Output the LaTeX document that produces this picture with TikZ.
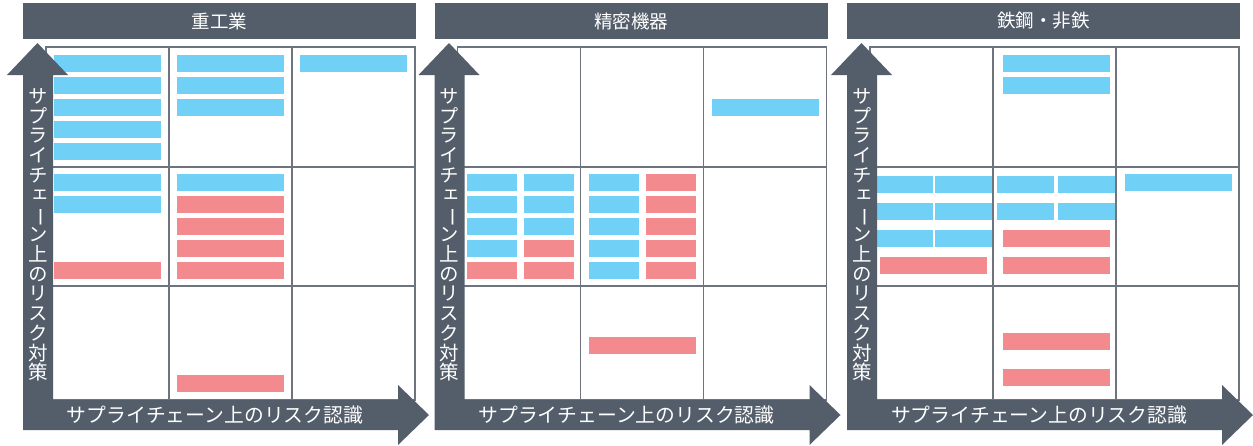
\documentclass[tikz,border=0pt]{standalone}
\usepackage{fontspec}
\usepackage{graphicx}
\newfontfamily\jp{Noto Sans CJK JP}
\newfontfamily\jpv[RawFeature=+vert]{Noto Sans CJK JP}
\definecolor{slate}{HTML}{545E6B}
\definecolor{gridc}{HTML}{6D747E}
\definecolor{blu}{HTML}{70D0F6}
\definecolor{pnk}{HTML}{F38B8E}
\tikzset{
  gridline/.style={draw=gridc, line width=1.6pt},
  titletext/.style={text=white, inner sep=0pt, font=\jp\fontsize{18.5}{20}\selectfont},
  htext/.style={text=white, inner sep=0pt, font=\jp\fontsize{19.8}{20}\selectfont},
  vtext/.style={text=white, inner sep=0pt, align=center, font=\jpv\fontsize{19.5}{19.75}\selectfont},
  bluebar/.style={fill=blu},
  pinkbar/.style={fill=pnk}
}
\newcommand\vbar{{\jp\rotatebox[origin=c]{-90}{ー}}}
\newcommand\panelbase[3]{%
\begin{scope}[xshift=#1pt]
  \fill[slate] (0,3) rectangle (393,39);
  \node[titletext] (#2title) at (196.5,21) {#3};
  \draw[gridline] (23,47) rectangle (392,400);
  \draw[gridline] (146,47) -- (146,400) (269,47) -- (269,400)
                  (23,167) -- (392,167) (23,286) -- (392,286);
\end{scope}}
\newcommand\panelaxes[2]{%
\begin{scope}[xshift=#1pt]
  \fill[slate] (14.5,43) -- (45,75) -- (30,75) -- (30,400) -- (375,400) -- (375,385)
     -- (406,415) -- (375,445) -- (375,430) -- (0,430) -- (0,75) -- (-16,75) -- cycle;
  \node[vtext] (#2v) at (15,235) {サ\\プ\\ラ\\イ\\チ\\ェ\\\vbar\\ン\\上\\の\\リ\\ス\\ク\\対\\策};
  \node[htext] (#2h) at (192,415) {サプライチェーン上のリスク認識};
\end{scope}}
\newcommand\bb[3]{\fill[bluebar] (#1,#2) rectangle ++(#3,17);}
\newcommand\pb[3]{\fill[pinkbar] (#1,#2) rectangle ++(#3,17);}
\begin{document}
\begin{tikzpicture}[x=1pt,y=-1pt]
\useasboundingbox (0,0) rectangle (1253,445);
\fill[white] (0,0) rectangle (1253,445);
\panelbase{23}{a}{重工業}
\panelbase{434.5}{b}{精密機器}
\panelbase{847}{c}{鉄鋼・非鉄}
% panel 1 bars
\foreach \y in {55,77,99,121,143} {\bb{54}{\y}{107}}
\foreach \y in {55,77,99} {\bb{177}{\y}{107}}
\bb{300}{55}{107}
\bb{54}{174}{107} \bb{54}{196}{107} \pb{54}{262}{107}
\bb{177}{174}{107}
\foreach \y in {196,218,240,262} {\pb{177}{\y}{107}}
\pb{177}{375}{107}
% panel 2 bars
\bb{712}{99}{107}
\foreach \y in {174,196,218,240} {\bb{467}{\y}{50}}
\pb{467}{262}{50}
\foreach \y in {174,196,218} {\bb{524}{\y}{50}}
\pb{524}{240}{50} \pb{524}{262}{50}
\foreach \y in {174,196,218,240,262} {\bb{589}{\y}{50}\pb{646}{\y}{50}}
\pb{589}{337}{107}
% panel 3 bars
\bb{1003}{55}{107} \bb{1003}{77}{107}
\foreach \y in {176,203} {\bb{872}{\y}{61}\bb{935}{\y}{57}\bb{997}{\y}{57}\bb{1058}{\y}{57}}
\bb{1125}{174}{107}
\bb{872}{230}{61}\bb{935}{230}{57}
\pb{1003}{230}{107}
\pb{880}{257}{107} \pb{1003}{257}{107}
\pb{1003}{333}{107} \pb{1003}{369}{107}
\panelaxes{23}{a}
\panelaxes{434.5}{b}
\panelaxes{847}{c}
\end{tikzpicture}
\end{document}
